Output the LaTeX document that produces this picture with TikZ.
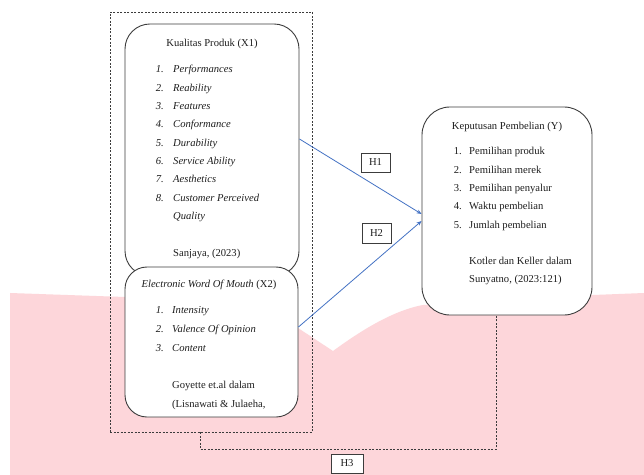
\documentclass[tikz,border=0pt]{standalone}
\usepackage{fontspec}
\setmainfont{Liberation Serif}
\usetikzlibrary{arrows.meta}
\definecolor{pinkbg}{RGB}{253,214,218}
\definecolor{arrowblue}{RGB}{68,114,196}
\definecolor{boxline}{RGB}{60,60,60}
\definecolor{txt}{RGB}{30,30,30}
\begin{document}
\begin{tikzpicture}[x=1bp,y=-1bp,
  box/.style={draw=boxline,line width=0.9bp,fill=white,inner sep=0pt},
  hbox/.style={draw=boxline,line width=0.8bp,fill=white,inner sep=0pt,font=\fontsize{10.6bp}{12bp}\selectfont,text=txt},
  dashline/.style={draw=boxline,line width=0.7bp,dash pattern=on 2bp off 1.5bp},
  conn/.style={draw=arrowblue,line width=0.8bp,-{Stealth[length=5bp,width=4bp]}},
  tl/.style={anchor=base west,inner sep=0pt,font=\fontsize{10.6bp}{12bp}\selectfont,text=txt},
  tc/.style={anchor=base,inner sep=0pt,font=\fontsize{10.6bp}{12bp}\selectfont,text=txt},
  num/.style={anchor=base east,inner sep=0pt,font=\fontsize{10.6bp}{12bp}\selectfont,text=txt}]
\useasboundingbox (0,0) rectangle (644,475);
\fill[white] (0,0) rectangle (644,475);
% pink background
\fill[pinkbg] (10,475) -- (10,293) -- (125,297) -- (298,328) -- (333,351)
  .. controls (355,335) and (390,311) .. (423,305) -- (593,295) -- (644,293) -- (644,475) -- cycle;
% dashed frame
\node[dashline,minimum width=202bp,minimum height=420bp,inner sep=0pt] (frame) at (211,222) {};
% boxes
\node[box,rounded corners=25bp,minimum width=174bp,minimum height=252bp] (x1) at (212,150) {};
\node[box,rounded corners=22bp,minimum width=173bp,minimum height=150bp] (x2) at (211.5,342) {};
\node[box,rounded corners=28bp,minimum width=170bp,minimum height=208bp] (y) at (507,211) {};
% X1 text
\node[tc] (x1t) at (212,47) {Kualitas Produk (X1)};
\foreach \n/\t/\yy [count=\i] in {1/Performances/73,2/Reability/91.5,3/Features/110,4/Conformance/128,5/Durability/146.5,6/Service Ability/165,7/Aesthetics/183,8/Customer Perceived/201.5}{
  \node[num] (x1n\i) at (164,\yy) {\itshape\n.};
  \node[tl] (x1i\i) at (173,\yy) {\itshape\t};
}
\node[tl] (x1q) at (173,220) {\itshape Quality};
\node[tl] (x1s) at (173,257) {Sanjaya, (2023)};
% X2 text
\node[tc] (x2t) at (209,288) {\itshape Electronic Word Of Mouth \upshape(X2)};
\foreach \n/\t/\yy [count=\i] in {1/Intensity/314,2/Valence Of Opinion/332,3/Content/351}{
  \node[num] (x2n\i) at (164,\yy) {\itshape\n.};
  \node[tl] (x2i\i) at (172,\yy) {\itshape\t};
}
\node[tl] (x2s1) at (172,388) {Goyette et.al dalam};
\node[tl] (x2s2) at (172,407) {(Lisnawati \& Julaeha,};
% Y text
\node[tc] (yt) at (507,130) {Keputusan Pembelian (Y)};
\foreach \n/\t/\yy [count=\i] in {1/Pemilihan produk/155,2/Pemilihan merek/173.5,3/Pemilihan penyalur/192,4/Waktu pembelian/210,5/Jumlah pembelian/229}{
  \node[num] (yn\i) at (462,\yy) {\n.};
  \node[tl] (yi\i) at (469,\yy) {\t};
}
\node[tl] (ys1) at (469,265) {Kotler dan Keller dalam};
\node[tl] (ys2) at (469,283) {Sunyatno, (2023:121)};
% connectors
\draw[conn] ([yshift=11bp]x1.east) -- ([yshift=-3bp]y.west);
\draw[conn] ([yshift=15bp]x2.east) -- ([yshift=-10bp]y.west);
\draw[dashline] ([xshift=-11bp]frame.south) -- ++(0,17) -| ([xshift=-11bp]y.south);
% labels
\node[hbox,minimum width=29bp,minimum height=19bp] (h1) at (375.5,162.5) {H1};
\node[hbox,minimum width=29bp,minimum height=20bp] (h2) at (376.5,233) {H2};
\node[hbox,minimum width=32bp,minimum height=19bp] (h3) at (347,463.5) {H3};
\end{tikzpicture}
\end{document}
